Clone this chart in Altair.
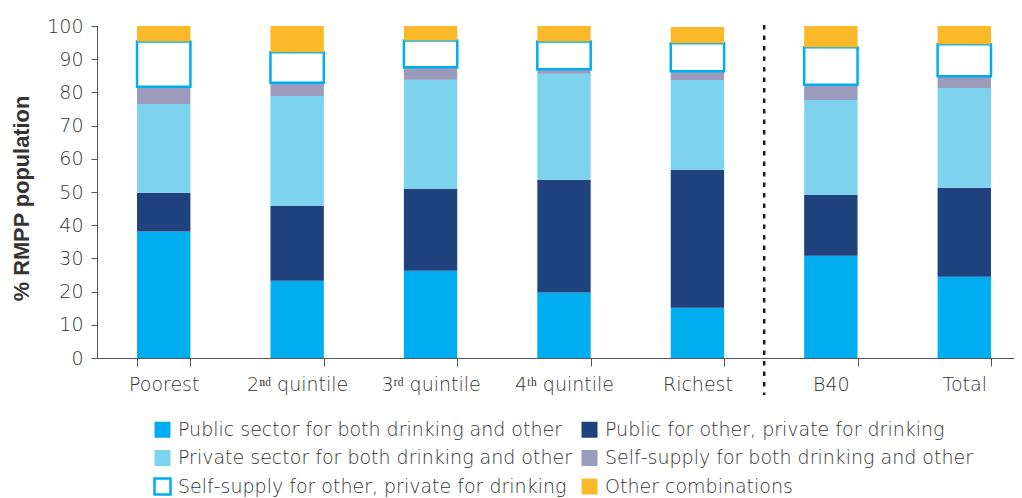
import altair as alt
import pandas as pd

categories = ["Poorest", "2ⁿᵈ quintile", "3ʳᵈ quintile", "4ᵗʰ quintile", "Richest", "B40", "Total"]
series = [
    "Public sector for both drinking and other",
    "Public for other, private for drinking",
    "Private sector for both drinking and other",
    "Self-supply for both drinking and other",
    "Self-supply for other, private for drinking",
    "Other combinations",
]
public_both = [38.1, 23.3, 26.3, 19.7, 15.1, 30.8, 24.5]
public_other_private = [11.7, 22.5, 24.7, 34.0, 41.6, 18.3, 26.8]
private_both = [26.7, 33.1, 32.8, 31.9, 27.0, 28.6, 30.0]
self_both = [5.2, 4.0, 3.8, 1.4, 2.7, 4.6, 3.6]
self_other_private = [13.6, 9.2, 8.0, 8.3, 8.4, 11.3, 9.6]
other_comb = [4.7, 7.9, 4.4, 4.7, 4.9, 6.4, 5.5]

fill_colors = ["#00AEEF", "#1F417D", "#7DD2ED", "#9A9BBD", "#FFFFFF", "#FBB829"]
stroke_colors = ["transparent", "transparent", "transparent", "transparent", "#00AEEF", "transparent"]

# legend fills column-first; reorder so it reads row by row as in the reference
legend_order = [0, 2, 4, 1, 3, 5]
legend_domain = [series[i] for i in legend_order]
legend_fill = [fill_colors[i] for i in legend_order]
legend_stroke = [stroke_colors[i] for i in legend_order]

values = [public_both, public_other_private, private_both, self_both, self_other_private, other_comb]
rows = []
for si, (s, vals) in enumerate(zip(series, values)):
    for c, v in zip(categories, vals):
        rows.append({"category": c, "series": s, "value": v, "idx": si})
df = pd.DataFrame(rows)

sep_df = pd.DataFrame({"category": ["B40"]})

FONT = "DejaVu Sans"
W_RANGE = 934
H = 332
TXT = "#333333"

xscale = alt.Scale(domain=categories, range=[0, W_RANGE], paddingInner=0.6, paddingOuter=0.3)


def legend():
    return alt.Legend(title=None, orient="none", legendX=56, legendY=394,
                      columns=2, symbolType="square", symbolSize=256,
                      symbolStrokeWidth=2.5, labelFont=FONT, labelFontSize=19,
                      labelFontWeight=300, labelColor=TXT, labelLimit=600,
                      rowPadding=1.5, columnPadding=4, labelOffset=6)


bars = alt.Chart(df).mark_bar(strokeWidth=2.5).encode(
    x=alt.X("category:N", sort=categories, scale=xscale,
            axis=alt.Axis(title=None, labelAngle=0, tickBand="extent", tickSize=8,
                          labelPadding=9, labelFontSize=19, labelFont=FONT,
                          labelFontWeight=300,
                          labelColor=TXT, domainColor="#555555", tickColor="#555555")),
    y=alt.Y("value:Q", stack="zero", scale=alt.Scale(domain=[0, 100]),
            axis=alt.Axis(title="% RMPP population", values=list(range(0, 101, 10)),
                          tickSize=6, labelPadding=8, labelFontSize=19, labelFont=FONT,
                          labelFontWeight=300,
                          labelColor=TXT, domainColor="#555555", tickColor="#555555",
                          titleFont="Liberation Sans", titleFontSize=21.8, titleFontWeight="bold",
                          titleColor=TXT, titlePadding=13, titleY=172, grid=False)),
    fill=alt.Fill("series:N", scale=alt.Scale(domain=legend_domain, range=legend_fill),
                  legend=legend()),
    stroke=alt.Stroke("series:N", scale=alt.Scale(domain=legend_domain, range=legend_stroke),
                      legend=legend()),
    order=alt.Order("idx:Q", sort="ascending"),
)

# separator sits in the middle of the gap left of the B40 bar
sep = alt.Chart(sep_df).mark_rule(color="#1a1a1a", strokeWidth=2.5, strokeDash=[4.5, 6],
                                  xOffset=-40).encode(
    x=alt.X("category:N", sort=categories, scale=xscale, bandPosition=0),
    y=alt.value(-1),
    y2=alt.value(369),
)

chart = alt.layer(bars, sep).properties(
    width=917, height=H,
    autosize=alt.AutoSizeParams(type="none"),
    padding={"left": 89, "top": 18, "right": 0, "bottom": 140},
).configure_view(stroke=None)

chart.save("out.html", embed_options={"renderer": "svg", "actions": False})
